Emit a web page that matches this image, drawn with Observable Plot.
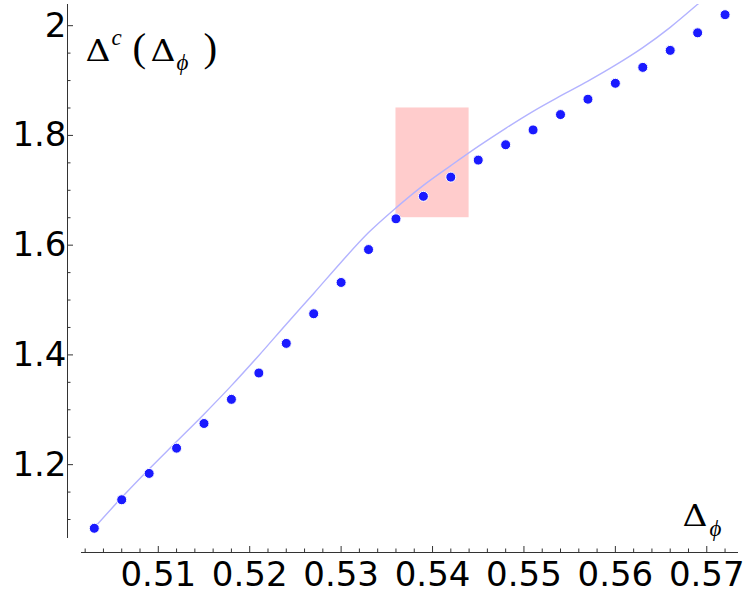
<!DOCTYPE html>
<html>
<head>
<meta charset="utf-8">
<script src="https://cdn.jsdelivr.net/npm/d3@7"></script>
<script src="https://cdn.jsdelivr.net/npm/@observablehq/plot@0.6"></script>
<style>
  html, body { margin: 0; padding: 0; background: #fff; }
  #chart svg { display: block; }
</style>
</head>
<body>
<div id="chart"></div>
<script>
// Δ_φ values of the sampled points
const deltaPhi = [0.503, 0.506, 0.509, 0.512, 0.515, 0.518, 0.521, 0.524, 0.527, 0.530, 0.533, 0.536,
                  0.539, 0.542, 0.545, 0.548, 0.551, 0.554, 0.557, 0.560, 0.563, 0.566, 0.569, 0.572];
// Δ^c(Δ_φ) at those points
const deltaC = [1.084, 1.136, 1.184, 1.230, 1.275, 1.319, 1.367, 1.421, 1.475, 1.532, 1.592, 1.648,
                1.689, 1.724, 1.755, 1.783, 1.810, 1.838, 1.866, 1.895, 1.924, 1.955, 1.987, 2.020];

// reference curve
const curveX = [0.503, 0.506, 0.509, 0.512, 0.515, 0.518, 0.521, 0.524, 0.527, 0.530, 0.533, 0.536,
                0.539, 0.542, 0.545, 0.548, 0.551, 0.554, 0.557, 0.560, 0.563, 0.566, 0.569, 0.5705];
const curveY = [1.085, 1.140, 1.192, 1.242, 1.292, 1.344, 1.399, 1.456, 1.512, 1.569, 1.623, 1.668,
                1.709, 1.745, 1.780, 1.813, 1.844, 1.872, 1.899, 1.928, 1.960, 1.997, 2.039, 2.061];

// highlighted window
const boxX = [0.536, 0.544];
const boxY = [1.65, 1.85];

// axes
const xDomain = [0.5016, 0.57347];
const yDomain = [1.0654, 2.0386];
const xMajor = [0.51, 0.52, 0.53, 0.54, 0.55, 0.56, 0.57];
const xMajorLabels = ["0.51", "0.52", "0.53", "0.54", "0.55", "0.56", "0.57"];
const xMinor = [0.502, 0.504, 0.506, 0.508, 0.512, 0.514, 0.516, 0.518, 0.522, 0.524, 0.526, 0.528,
                0.532, 0.534, 0.536, 0.538, 0.542, 0.544, 0.546, 0.548, 0.552, 0.554, 0.556, 0.558,
                0.562, 0.564, 0.566, 0.568, 0.572];
const yMajor = [1.2, 1.4, 1.6, 1.8, 2.0];
const yMajorLabels = ["1.2", "1.4", "1.6", "1.8", "2"];
const yMinor = [1.1, 1.15, 1.25, 1.3, 1.35, 1.45, 1.5, 1.55, 1.65, 1.7, 1.75, 1.85, 1.9, 1.95];

const points = deltaPhi.map((x, i) => ({x, y: deltaC[i]}));
const curve = curveX.map((x, i) => ({x, y: curveY[i]}));
const box = [{x1: boxX[0], x2: boxX[1], y1: boxY[0], y2: boxY[1]}];

const xLabel = new Map(xMajor.map((v, i) => [v, xMajorLabels[i]]));
const yLabel = new Map(yMajor.map((v, i) => [v, yMajorLabels[i]]));

const axisColor = "#333";
const gap = 14; // axes sit detached from the plotting area
const blank = () => "";

const svg = Plot.plot({
  width: 748,
  height: 593,
  marginLeft: 81,
  marginRight: 10,
  marginTop: 4,
  marginBottom: 55,
  style: {fontFamily: "'DejaVu Sans', sans-serif", background: "#fff", color: "#000"},
  x: {domain: xDomain, axis: null},
  y: {domain: yDomain, axis: null},
  marks: [
    Plot.rect(box, {x1: "x1", x2: "x2", y1: "y1", y2: "y2", fill: "#ffcccc"}),
    Plot.line(curve, {x: "x", y: "y", curve: "catmull-rom", stroke: "#b3b3ff", strokeWidth: 1.4, clip: true}),
    Plot.dot(points, {x: "x", y: "y", r: 5, fill: "#1a1aff", stroke: "#fff", strokeWidth: 1}),

    // y axis
    Plot.ruleX([xDomain[0]], {dx: -gap, stroke: axisColor}),
    Plot.axisY({ticks: yMajor, anchor: "left", tickSize: -6, dx: -gap, stroke: axisColor,
                tickFormat: blank, label: null}),
    Plot.axisY({ticks: yMinor, anchor: "left", tickSize: -3.5, dx: -gap, stroke: axisColor,
                tickFormat: blank, label: null}),
    Plot.axisY({ticks: yMajor, anchor: "left", tickSize: 0, tickPadding: 1, dx: -gap,
                fontSize: 34, tickFormat: (d) => yLabel.get(d), label: null}),

    // x axis
    Plot.ruleY([yDomain[0]], {dy: gap, stroke: axisColor}),
    Plot.axisX({ticks: xMajor, anchor: "bottom", tickSize: -6, dy: gap, stroke: axisColor,
                tickFormat: blank, label: null}),
    Plot.axisX({ticks: xMinor, anchor: "bottom", tickSize: -3.5, dy: gap, stroke: axisColor,
                tickFormat: blank, label: null}),
    Plot.axisX({ticks: xMajor, anchor: "bottom", tickSize: 0, tickPadding: 9, dy: gap,
                fontSize: 34, tickFormat: (d) => xLabel.get(d), label: null}),

    // axis titles (typeset below)
    Plot.text(["Δc(Δϕ)"], {frameAnchor: "top-left", textAnchor: "start", dx: 4, dy: 56,
                           fontSize: 28, className: "ytitle"}),
    Plot.text(["Δϕ"], {frameAnchor: "bottom-right", textAnchor: "start", dx: -56, dy: -13,
                       fontSize: 28, className: "xtitle"})
  ]
});

// Typeset a title from pieces placed relative to its baseline origin.
const mathFont = "'Liberation Serif', 'DejaVu Serif', serif";
function typeset(selector, parts) {
  const t = d3.select(svg).select(selector).select("text");
  t.text(null).attr("dy", null).attr("y", null);
  for (const p of parts) {
    const s = t.append("tspan").text(p.text)
      .attr("x", p.x).attr("y", p.y || 0)
      .attr("font-size", p.size)
      .attr("font-family", p.family || mathFont);
    if (p.italic) s.attr("font-style", "italic");
    if (p.width) s.attr("textLength", p.width).attr("lengthAdjust", "spacingAndGlyphs");
  }
}

const delta = {text: "Δ", size: 29, family: "'DejaVu Serif', serif", width: 25};

typeset(".ytitle", [
  {...delta, x: 0},
  {text: "c", italic: true, size: 23, x: 26, y: -16},
  {text: "(", size: 41, x: 47},
  {...delta, x: 65},
  {text: "ϕ", italic: true, size: 23, x: 91, y: 9},
  {text: ")", size: 41, x: 118}
]);

typeset(".xtitle", [
  {...delta, x: 0},
  {text: "ϕ", italic: true, size: 23, x: 27, y: 10}
]);

document.getElementById("chart").appendChild(svg);
</script>
</body>
</html>
